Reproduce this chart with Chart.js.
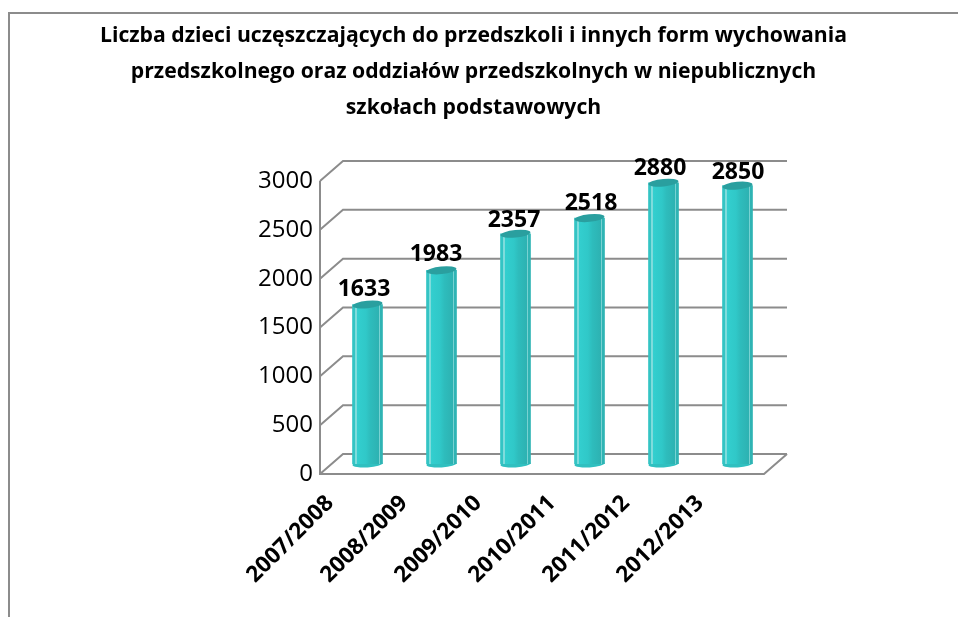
<!DOCTYPE html>
<html><head><meta charset="utf-8">
<style>html,body{margin:0;padding:0;background:#fff;overflow:hidden}
#frame{position:absolute;left:8px;top:12px;width:950px;height:605px;border-left:2px solid #8c8c8c;border-top:2px solid #8c8c8c;box-sizing:border-box}
#wrap{position:absolute;left:0;top:0;width:958px;height:617px}</style>
<script src="https://cdn.jsdelivr.net/npm/chart.js@4"></script></head>
<body><div id="frame"></div><div id="wrap"><canvas id="c" width="958" height="617"></canvas></div>
<script>
const categories=["2007/2008","2008/2009","2009/2010","2010/2011","2011/2012","2012/2013"];
const values=[1633,1983,2357,2518,2880,2850];
const titleLines=["Liczba dzieci uczęszczających do przedszkoli i innych form wychowania","przedszkolnego oraz oddziałów przedszkolnych w niepublicznych","szkołach podstawowych"];
const FONT='"Open Sans", sans-serif';
const GRID='#8c8c8c';
const DX=23,DY=20,BX=10.5,BY=10;
const labelNudgeX=[0,-2,2,5,0,4],labelNudgeY=[1,0,3,1,2,3];
function barFill(ctx){
  if(ctx.dataIndex==null||!ctx.chart.scales.x) return '#2fc4c4';
  const cx=ctx.chart.scales.x.getPixelForValue(ctx.dataIndex);
  if(!Number.isFinite(cx)) return '#2fc4c4';
  const w=30,x0=cx-w/2;
  const g=ctx.chart.ctx.createLinearGradient(x0,0,x0+w,0);
  g.addColorStop(0,'#34c4c4');g.addColorStop(0.09,'#34c4c4');g.addColorStop(0.1,'#7fdcdc');g.addColorStop(0.14,'#7fdcdc');g.addColorStop(0.15,'#33cfcf');
  g.addColorStop(0.45,'#30c8c8');g.addColorStop(0.6,'#2ebcbc');g.addColorStop(0.87,'#2db2b2');g.addColorStop(0.88,'#78d2d2');g.addColorStop(0.92,'#78d2d2');g.addColorStop(0.93,'#2fb4b4');g.addColorStop(1,'#2fb4b4');
  return g;
}
const walls={id:'walls',
  beforeDatasetsDraw(chart){
    const {ctx,scales:{x,y}}=chart;
    ctx.save();ctx.strokeStyle=GRID;ctx.lineWidth=2;
    const L=x.left,R=x.right;
    y.ticks.forEach(t=>{const p=y.getPixelForValue(t.value);
      ctx.beginPath();ctx.moveTo(L,p);ctx.lineTo(L+DX,p-DY);ctx.lineTo(R+DX,p-DY);ctx.stroke();});
    const b=y.getPixelForValue(0);
    ctx.beginPath();ctx.moveTo(L,y.getPixelForValue(3000));ctx.lineTo(L,b);ctx.lineTo(R,b);ctx.lineTo(R+DX,b-DY);ctx.stroke();
    ctx.restore();
  },
  beforeDatasetDraw(chart){
    const {ctx}=chart;ctx.save();ctx.translate(BX,-BY);
    chart.getDatasetMeta(0).data.forEach(el=>{
      ctx.beginPath();ctx.fillStyle='#30c0c0';
      ctx.ellipse(el.x,el.base,15,3.5,-0.06,0,Math.PI*2);ctx.fill();});
  },
  afterDatasetDraw(chart){
    const {ctx}=chart;
    chart.getDatasetMeta(0).data.forEach(el=>{
      ctx.beginPath();ctx.fillStyle='#2a9f9f';
      ctx.ellipse(el.x,el.y,15,3.8,-0.1,0,Math.PI*2);ctx.fill();});
    ctx.restore();
    ctx.save();ctx.font='bold 23px '+FONT;ctx.fillStyle='#000';ctx.textAlign='center';ctx.textBaseline='middle';
    chart.getDatasetMeta(0).data.forEach((el,i)=>{ctx.fillText(String(values[i]),el.x+7+labelNudgeX[i],el.y-26+labelNudgeY[i]);});
    ctx.restore();
  }};
new Chart(document.getElementById('c'),{type:'bar',
  data:{labels:categories,datasets:[{data:values,backgroundColor:barFill,borderWidth:0,barThickness:30}]},
  plugins:[walls],
  options:{responsive:false,animation:false,
    layout:{padding:{right:11}},
    plugins:{legend:{display:false},tooltip:{enabled:false},
      title:{display:true,text:titleLines,color:'#000',font:{family:FONT,size:21.2,weight:'bold',lineHeight:1.698},padding:{top:18,bottom:55},align:'center'}},
    scales:{
      x:{grid:{display:false},border:{display:false},
         ticks:{color:'#000',font:{family:FONT,size:22.5,weight:'bold'},minRotation:45,maxRotation:45,labelOffset:-27,padding:8},
         afterFit(s){s.height=143;}},
      y:{min:0,max:3000,grid:{display:false},border:{display:false},
         ticks:{stepSize:500,color:'#000',font:{family:FONT,size:24},padding:-1,callback:v=>String(v)},
         afterFit(s){s.width=320;}},
      spacer:{position:'right',min:0,max:1,grid:{display:false},border:{display:false},ticks:{display:false},
         afterFit(s){s.width=183;}}
    }}});
</script></body></html>
